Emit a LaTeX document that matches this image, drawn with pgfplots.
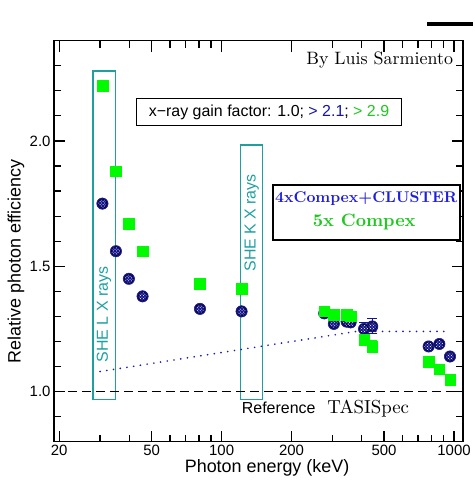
\documentclass[border=0pt]{standalone}
\usepackage{fontspec}
\setsansfont{Liberation Sans}
\newfontfamily\cmten{lmroman10-regular.otf}[BoldFont=lmroman10-bold.otf]
\usepackage{pgfplots}
\usepackage{pgfplotstable}
\pgfplotsset{compat=1.18}
\usetikzlibrary{patterns}

\definecolor{navy}{RGB}{20,20,140}
\definecolor{dotblue}{RGB}{30,30,170}
\definecolor{sqgreen}{RGB}{0,250,0}
\definecolor{txtgreen}{RGB}{30,200,30}
\definecolor{txtblue}{RGB}{20,20,170}
\definecolor{legblue}{RGB}{30,30,220}
\definecolor{boxteal}{RGB}{30,160,160}

% 4xCompex+CLUSTER
\pgfplotstableread{
x y
30.7 1.75
35.1 1.56
39.9 1.45
45.7 1.38
80.7 1.33
121.9 1.32
276.5 1.312
304 1.27
345 1.279
359 1.276
410 1.25
445 1.26
778 1.18
865 1.19
961 1.14
}\clustertab

% 5x Compex
\pgfplotstableread{
x y
30.7 2.22
35.0 1.88
39.9 1.67
45.7 1.56
80.7 1.43
121.9 1.41
276.5 1.32
304 1.307
345 1.307
359 1.30
410 1.206
445 1.18
778 1.12
865 1.09
961 1.047
}\compextab

\begin{document}
\begin{tikzpicture}
\begin{axis}[
  scale only axis, width=409bp, height=401bp,
  xmode=log, xmin=19, xmax=1093, ymin=0.8, ymax=2.4,
  clip=false,
  axis line style={line width=1.5bp},
  tick style={line width=1.2bp, black},
  tick align=inside,
  major tick length=11bp, minor tick length=7bp,
  xtick={20,50,100,200,500,1000}, xticklabels={20,50,100,200,500,1000},
  minor xtick={30,40,60,70,80,90,300,400,600,700,800,900},
  ytick={1.0,1.5,2.0}, yticklabels={1.0,1.5,2.0},
  minor ytick={0.9,1.1,1.2,1.3,1.4,1.6,1.7,1.8,1.9,2.1,2.2,2.3},
  ticklabel style={font=\sffamily\fontsize{15}{15}\selectfont},
  xlabel={Photon energy (keV)},
  ylabel={Relative photon efficiency},
  xlabel style={at={(axis description cs:0.521,-0.066)}, anchor=center, font=\sffamily\fontsize{18}{18}\selectfont},
  ylabel style={at={(axis description cs:-0.093,0.45)}, anchor=center, font=\sffamily\fontsize{18}{18}\selectfont},
]
% size of the page
\path (rel axis cs:-0.132,-0.1055) rectangle (rel axis cs:1.0245,1.1015);
\draw[line width=4bp] (rel axis cs:0.912,1.0416) -- (rel axis cs:1.0244,1.0416);

% x-ray regions
\draw[draw=boxteal, line width=1.5bp] (axis cs:28.0,0.968) rectangle (axis cs:34.9,2.279);
\draw[draw=boxteal, line width=1.5bp] (axis cs:120.7,0.968) rectangle (axis cs:150.2,1.984);
\node[rotate=90, text=boxteal, font=\sffamily\fontsize{16}{16}\selectfont] at (axis cs:31.2,1.307) {SHE L X rays};
\node[rotate=90, text=boxteal, font=\sffamily\fontsize{16}{16}\selectfont] at (axis cs:134.6,1.673) {SHE K X rays};

\addplot[black, line width=1.3bp, dash pattern=on 9bp off 5bp] coordinates {(19,1.0) (1093,1.0)};
\addplot[dotblue, line width=1.9bp, dash pattern=on 0bp off 6.8bp, line cap=round] coordinates {(30,1.08) (380,1.24) (950,1.24)};

% error bars
\addplot[navy, mark=none, only marks, error bars/.cd, y dir=both, y explicit, error bar style={line width=1bp}, error mark options={rotate=90, mark size=5bp, line width=1bp}]
  coordinates {(410,1.25) +- (0,0.025) (445,1.26) +- (0,0.03)};
\addplot[sqgreen, mark=none, only marks, error bars/.cd, y dir=both, y explicit, error bar style={line width=1bp}, error mark options={rotate=90, mark size=5bp, line width=1bp}]
  coordinates {(410,1.206) +- (0,0.02) (445,1.18) +- (0,0.025)};

\addplot[only marks, mark=*, mark size=5.7bp, mark options={draw=navy, fill=navy, line width=0.5bp}] table {\clustertab};
\addplot[only marks, mark=*, mark size=4.6bp, mark options={draw=none, pattern=crosshatch dots, pattern color=white}] table {\clustertab};
\addplot[only marks, mark=square*, mark size=5.3bp, mark options={draw=sqgreen, fill=sqgreen}] table {\compextab};

\node[draw, line width=0.9bp, fill=white, minimum width=265bp, minimum height=27bp, inner sep=0pt,
  font=\sffamily\fontsize{16}{16}\selectfont] at (rel axis cs:0.5257,0.822)
  {x−ray gain factor: 1.0; \textcolor{txtblue}{> 2.1}; \textcolor{txtgreen}{> 2.9}};

\draw[line width=2.2bp, fill=white] (rel axis cs:0.5347,0.503) rectangle (rel axis cs:0.9919,0.6402);
\node[text=legblue, font=\cmten\bfseries\fontsize{15.6}{15.6}\selectfont] at (rel axis cs:0.7634,0.6072) {4xCompex+CLUSTER};
\node[text=txtgreen, font=\cmten\bfseries\fontsize{18}{18}\selectfont] at (rel axis cs:0.7585,0.5486) {5x Compex};

\node[anchor=east, inner sep=0pt, font=\cmten\fontsize{18}{18}\selectfont] at (rel axis cs:0.976,0.952) {By Luis Sarmiento};
\node[anchor=west, inner sep=0pt] at (rel axis cs:0.459,0.0815)
  {{\sffamily\fontsize{16}{16}\selectfont Reference}\hspace{12bp}{\cmten\fontsize{18.9}{18.9}\selectfont TASISpec}};
\end{axis}
\end{tikzpicture}
\end{document}
